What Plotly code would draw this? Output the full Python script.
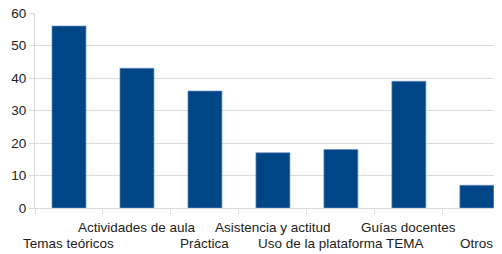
import plotly.graph_objects as go

categories = ["Temas teóricos", "Actividades de aula", "Práctica", "Asistencia y actitud",
              "Uso de la plataforma TEMA", "Guías docentes", "Otros"]
values = [56, 43, 36, 17, 18, 39, 7]
y_ticks = [0, 10, 20, 30, 40, 50, 60]

FONT = "Liberation Sans, Arial, sans-serif"
GRID = "#dcdcdc"

fig = go.Figure()
fig.add_trace(go.Bar(
    x=list(range(len(categories))), y=values, width=0.5,
    marker=dict(color="#004586", line=dict(color="#6f8fc0", width=0.7)),
    hoverinfo="skip"))

annotations = []
for i, c in enumerate(categories):
    upper = (i % 2 == 1)
    annotations.append(dict(
        x=i, y=0, xref="x", yref="paper", text=c, showarrow=False,
        xanchor="center", yanchor="top", yshift=-10 if upper else -26,
        font=dict(family=FONT, size=13.5, color="#222222")))

# the page body has an 8px default margin, so the figure is offset by 8px
fig.update_layout(
    width=494, height=246,
    margin=dict(l=27, r=0, t=5, b=46, autoexpand=False),
    paper_bgcolor="white", plot_bgcolor="white",
    showlegend=False,
    annotations=annotations,
    font=dict(family=FONT, size=13.5, color="#222222"),
    xaxis=dict(
        type="linear", range=[-0.5, 6.37], showticklabels=False,
        tickmode="array", tickvals=[k + 0.5 for k in range(-1, 7)],
        ticks="outside", ticklen=5, tickcolor=GRID, tickwidth=1,
        showgrid=False, zeroline=False, showline=True, linecolor=GRID, linewidth=1),
    yaxis=dict(
        range=[0, 60], tickmode="array", tickvals=y_ticks, automargin=False,
        ticklabeloverflow="allow",
        ticks="outside", ticklen=5, tickcolor=GRID, tickwidth=1,
        showgrid=True, gridcolor=GRID, gridwidth=1, zeroline=False,
        showline=True, linecolor=GRID, linewidth=1,
        tickfont=dict(family=FONT, size=13.5, color="#222222")),
)

fig.write_html("out.html")
